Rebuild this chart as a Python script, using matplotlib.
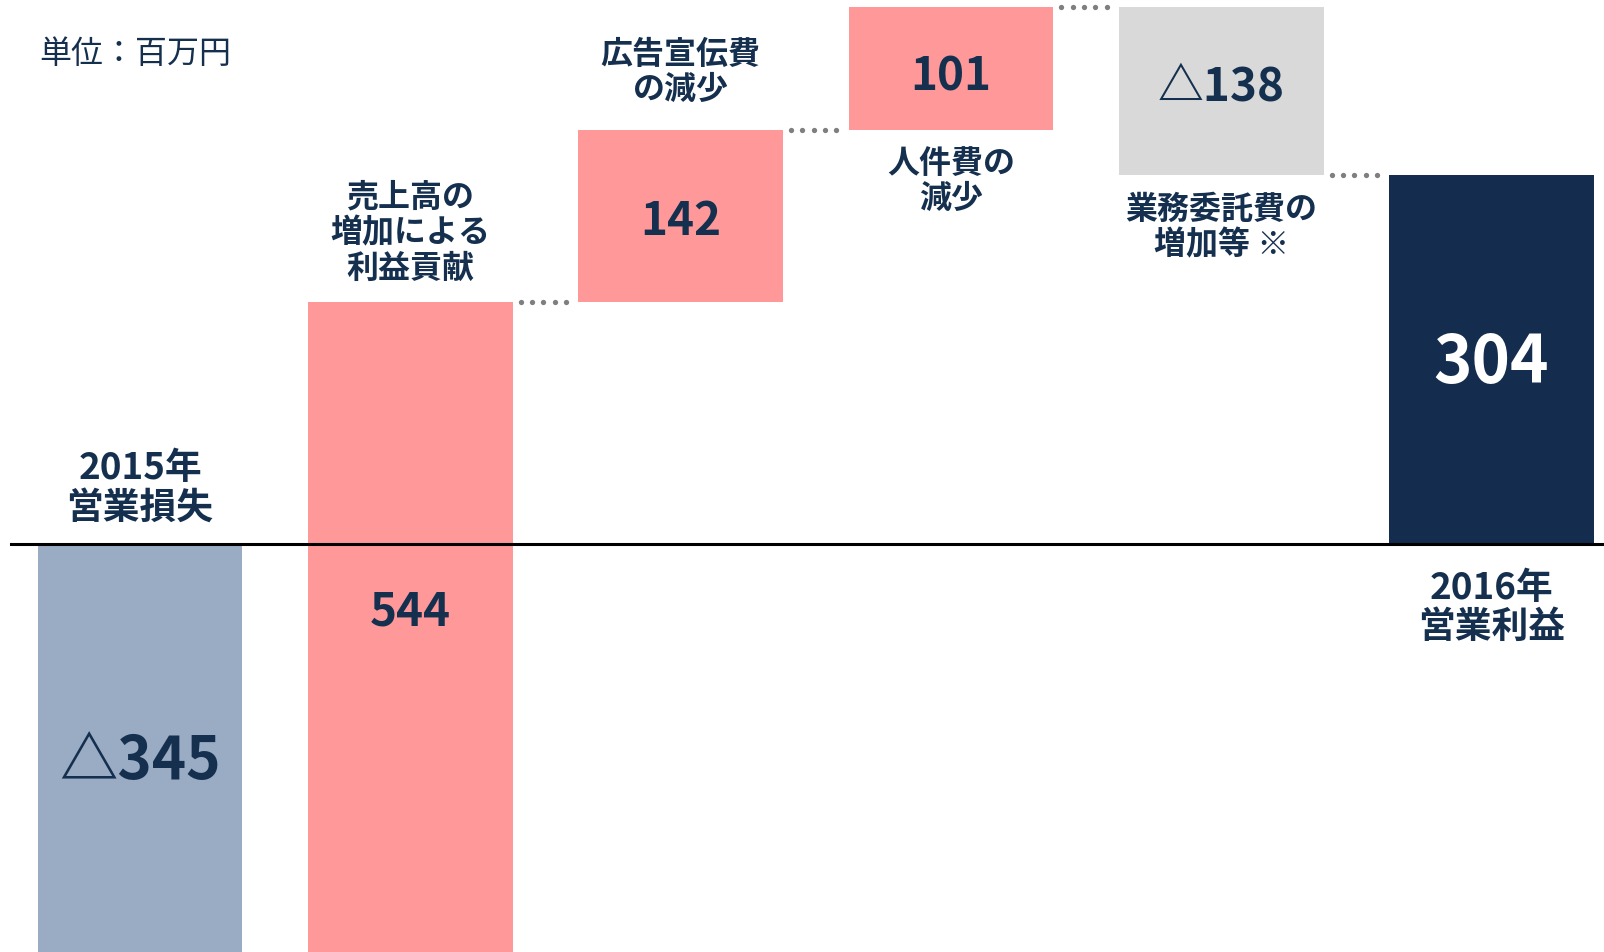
import numpy as np
import matplotlib.pyplot as plt

plt.rcParams['font.family'] = ['Noto Sans CJK JP', 'DejaVu Sans']

# 営業利益の増減 (単位：百万円)
categories = ["2015年\n営業損失", "売上高の\n増加による\n利益貢献", "広告宣伝費\nの減少",
              "人件費の\n減少", "業務委託費の\n増加等 ※", "2016年\n営業利益"]
values = [-345, 544, 142, 101, -138, 304]
bar_colors = ["#99ACC4", "#FF9999", "#FF9999", "#FF9999", "#D9D9D9", "#142D4E"]

navy = "#15304F"

# 積み上げ位置の計算
cum = np.cumsum(values[:-1])
bottoms = [0] + list(cum[:-1]) + [0]
tops = [b + v for b, v in zip(bottoms, values)]
x = np.arange(len(values))
w = 0.757

fig = plt.figure(figsize=(16.04, 9.53), dpi=100)
ax = fig.add_axes([0, 0, 1, 1])
ax.bar(x, values, bottom=bottoms, width=w, color=bar_colors, zorder=2)

ax.set_xlim(-0.518, 5.416)
ax.set_ylim(-335.8, 448.6)
ax.axis("off")

# ゼロ線
ax.axhline(0, xmin=11 / 1604, xmax=1, color="black", lw=2.2, zorder=3)

# 点線のつなぎ
for i in range(1, len(values) - 1):
    xs = np.linspace(i + w / 2 + 0.03, i + 1 - w / 2 - 0.045, 5)
    ax.plot(xs, [cum[i]] * 5, "o", color="#7F7F7F", ms=3.8, mew=0, zorder=2)

# 数値ラベル
val_labels = [("△" if v < 0 else "") + str(abs(v)) for v in values]
val_y = [(b + t) / 2 for b, t in zip(bottoms, tops)]
val_shift = [-6.5, 0, -4, -6.7, 0, -2.5]
val_y = [y + s for y, s in zip(val_y, val_shift)]
val_y[1] = -55.5
val_y[4] = 376.5
val_size = [42, 33, 33, 33, 33, 47]
val_color = [navy] * 5 + ["white"]
for i in range(len(values)):
    ax.text(x[i], val_y[i], val_labels[i], ha="center", va="center",
            fontsize=val_size[i], fontweight="bold", color=val_color[i], zorder=4)

# 項目ラベル
cat_y = [46.9, 256.7, 388.9, 299, 261.3, -51.9]
cat_size = [26.5, 23, 23, 23, 23, 26.5]
cat_ls = [1.08, 1.14, 1.12, 1.13, 1.16, 1.08]
for i in range(len(categories)):
    ax.text(x[i], cat_y[i], categories[i], ha="center", va="center",
            fontsize=cat_size[i], fontweight="bold", color=navy,
            linespacing=cat_ls[i], zorder=4)

fig.text(39 / 1604, 1 - 54 / 953, "単位：百万円", ha="left", va="center",
         fontsize=23, color=navy)

plt.savefig("out.png", dpi=100)
